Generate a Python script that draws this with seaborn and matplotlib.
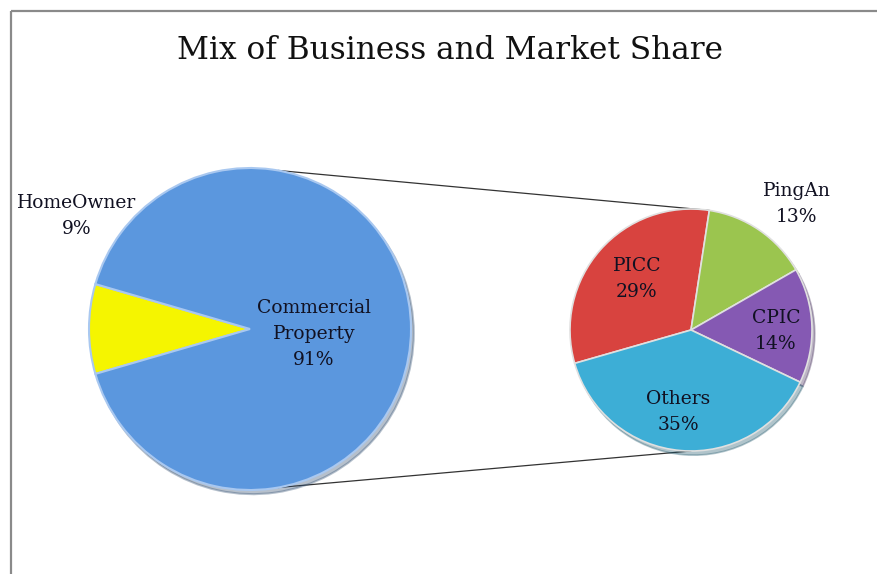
import matplotlib
matplotlib.use("Agg")
import matplotlib.pyplot as plt
import seaborn as sns
import numpy as np

sns.set_theme(style="white")
plt.rcParams['font.family'] = ['DejaVu Serif']

# ---- data ----
main_labels = ["HomeOwner", "Commercial\nProperty"]
main_values = [9, 91]
sub_labels = ["PICC", "PingAn", "CPIC", "Others"]
sub_values = [29, 13, 14, 35]

main_colors = ["#f5f500", "#5b97de"]
sub_colors = ["#d8433f", "#9bc54f", "#8559b3", "#3daed6"]

W, H = 878, 574
fig = plt.figure(figsize=(W / 100, H / 100), dpi=100)
ax = fig.add_axes([0, 0, 1, 1])

# frame (partially cropped at right/bottom)
ax.plot([11, W], [H - 11, H - 11], color="#8a8a8a", lw=1.6, solid_capstyle="butt")
ax.plot([11, 11], [0, H - 11], color="#8a8a8a", lw=1.6, solid_capstyle="butt")

# left pie
c1 = (250, 245)
r1 = 161
main_start = 180 - main_values[0] / sum(main_values) * 360 / 2
ax.pie(main_values, colors=main_colors, startangle=main_start, counterclock=True,
       center=c1, radius=r1, frame=True,
       wedgeprops=dict(edgecolor="#a9c8f0", linewidth=1.5),
       shadow={"ox": 2, "oy": -3, "shade": 0.5, "alpha": 0.35})

# right pie
c2 = (691, 244)
r2 = 121
sub_start = 196.0
ax.pie(sub_values, colors=sub_colors, startangle=sub_start, counterclock=False,
       center=c2, radius=r2, frame=True,
       wedgeprops=dict(edgecolor="#e0e0e0", linewidth=1.2),
       shadow={"ox": 2, "oy": -3, "shade": 0.5, "alpha": 0.35})

ax.set_xlim(0, W)
ax.set_ylim(0, H)
ax.set_aspect("equal")
ax.axis("off")

# connector lines
a_top = np.deg2rad(sub_start - sub_values[0] / sum(sub_values) * 360)
p1 = (c1[0] + r1 * np.cos(np.deg2rad(80)), c1[1] + r1 * np.sin(np.deg2rad(80)))
p2 = (c2[0] + r2 * np.cos(a_top), c2[1] + r2 * np.sin(a_top))
ax.plot([p1[0], p2[0]], [p1[1], p2[1]], color="#333333", lw=0.9, zorder=0)
q1 = (c1[0] + r1 * np.cos(np.deg2rad(-80)), c1[1] + r1 * np.sin(np.deg2rad(-80)))
q2 = (c2[0], c2[1] - r2)
ax.plot([q1[0], q2[0]], [q1[1], q2[1]], color="#333333", lw=0.9, zorder=0)

# title
ax.text(450, H - 50, "Mix of Business and Market Share", ha="center", va="center",
        fontsize=22.5, color="#111111")

# labels
tc = "#111122"
fs = 13.5
def lab(x, y, name, val):
    ax.text(x, H - y, f"{name}\n{val}%", ha="center", va="center", fontsize=fs,
            color=tc, linespacing=1.6, zorder=5, fontweight="medium")

lab(77, 216, main_labels[0], main_values[0])
lab(314, 334, main_labels[1], main_values[1])
lab(637, 279, sub_labels[0], sub_values[0])
lab(797, 204, sub_labels[1], sub_values[1])
lab(776, 331, sub_labels[2], sub_values[2])
lab(678, 412, sub_labels[3], sub_values[3])

fig.savefig("out.png", dpi=100)
